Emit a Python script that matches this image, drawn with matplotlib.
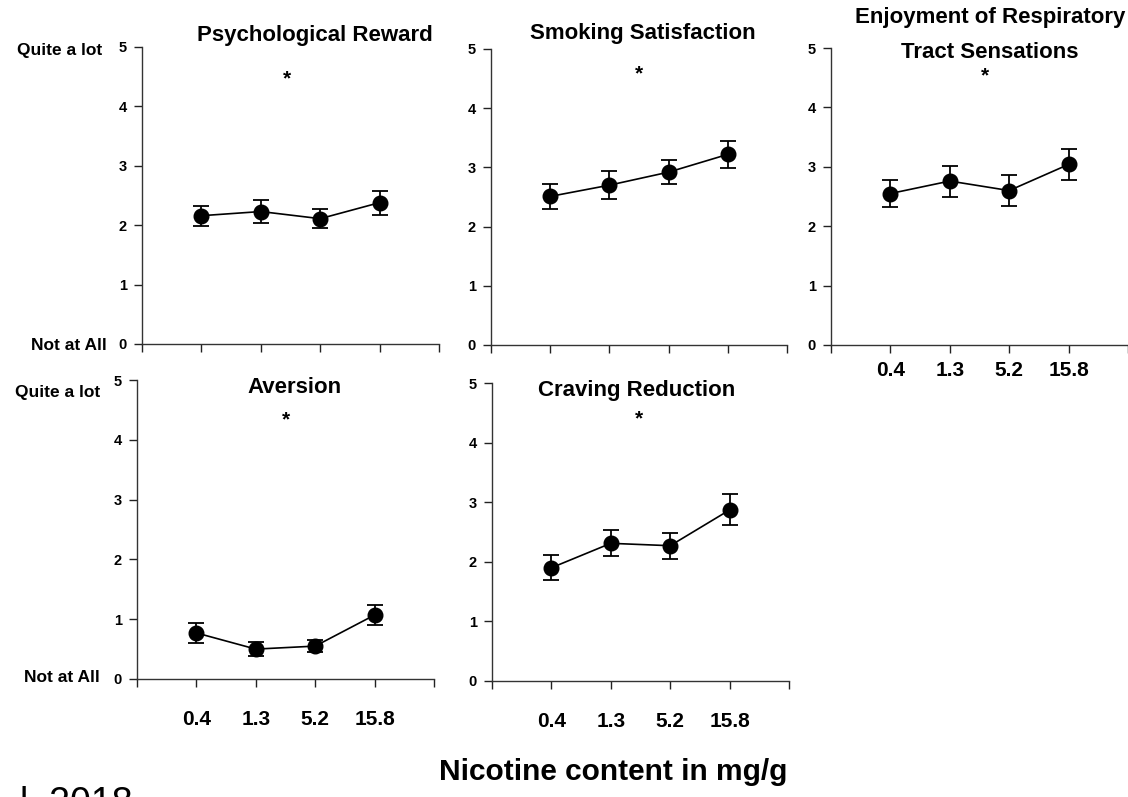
import matplotlib
matplotlib.use("Agg")
import matplotlib.pyplot as plt

plt.rcParams['font.family'] = ['Liberation Sans', 'DejaVu Sans']

# ---- data ----
categories = ['0.4', '1.3', '5.2', '15.8']
x_pos = [1, 2, 3, 4]

psych_mean = [2.16, 2.23, 2.11, 2.38]
psych_err = [0.17, 0.20, 0.16, 0.20]

satis_mean = [2.51, 2.70, 2.92, 3.22]
satis_err = [0.21, 0.24, 0.20, 0.23]

enjoy_mean = [2.55, 2.76, 2.60, 3.04]
enjoy_err = [0.23, 0.26, 0.26, 0.26]

aversion_mean = [0.77, 0.50, 0.55, 1.07]
aversion_err = [0.17, 0.12, 0.10, 0.17]

craving_mean = [1.90, 2.31, 2.27, 2.87]
craving_err = [0.21, 0.22, 0.22, 0.26]

titles = ['Psychological Reward', 'Smoking Satisfaction',
          ['Enjoyment of Respiratory', 'Tract Sensations'],
          'Aversion', 'Craving Reduction']
y_ticks = [0, 1, 2, 3, 4, 5]

W, H = 1128, 797
fig = plt.figure(figsize=(W / 100, H / 100), dpi=100)


def px(x, y):
    return x / W, 1 - y / H


def make_ax(l, r, t, b):
    return fig.add_axes([l / W, 1 - b / H, (r - l) / W, (b - t) / H])


panels = [
    (make_ax(142, 439, 47, 344), psych_mean, psych_err, [(315, 35)], (2.44, 4.46), False, 6),
    (make_ax(491, 787, 49, 345), satis_mean, satis_err, [(643, 33)], (2.5, 4.58), False, 6),
    (make_ax(831, 1128, 48, 345), enjoy_mean, enjoy_err, [(990, 18), (990, 52)], (2.6, 4.53), True, 6),
    (make_ax(137, 434, 380, 679), aversion_mean, aversion_err, [(294, 388)], (2.5, 4.33), True, 17),
    (make_ax(492, 789, 383, 681), craving_mean, craving_err, [(637, 390)], (2.47, 4.4), True, 17),
]

for i, (ax, m, e, tpos, star, showx, xpad) in enumerate(panels):
    ax.errorbar(x_pos, m, yerr=e, color='black', marker='o', markersize=10.5,
                linewidth=1.2, elinewidth=1.3, capsize=6, capthick=1.3)
    ax.set_xlim(0, 5)
    ax.set_ylim(0, 5)
    ax.set_yticks(y_ticks)
    ax.set_yticklabels([str(v) for v in y_ticks], fontsize=10.5, fontweight='bold')
    ax.set_xticks([0, 1, 2, 3, 4, 5])
    if showx:
        ax.set_xticklabels([''] + categories + [''], fontsize=15, fontweight='bold')
    else:
        ax.set_xticklabels([''] * 6)
    ax.tick_params(axis='y', length=6, width=1, pad=5, colors='#222222')
    ax.tick_params(axis='x', length=5.5, width=1, pad=xpad, colors='#222222')
    for lab in ax.get_xticklabels() + ax.get_yticklabels():
        lab.set_color('black')
    for s in ['top', 'right']:
        ax.spines[s].set_visible(False)
    for s in ['left', 'bottom']:
        ax.spines[s].set_linewidth(1.0)
        ax.spines[s].set_color('#333333')
    ax.patch.set_alpha(0)
    t = titles[i]
    lines = t if isinstance(t, list) else [t]
    for line, (tx, ty) in zip(lines, tpos):
        fig.text(*px(tx, ty), line, ha='center', va='center',
                 fontsize=16, fontweight='bold')
    ax.text(star[0], star[1], '*', ha='center', va='center', fontsize=15,
            fontweight='bold')

# scale anchors
for (xq, yq, xn, yn) in [(102, 51, 107, 345), (100, 393, 100, 678)]:
    fig.text(*px(xq, yq), 'Quite a lot', ha='right', va='center',
             fontsize=12.5, fontweight='bold')
    fig.text(*px(xn, yn), 'Not at All', ha='right', va='center',
             fontsize=12.5, fontweight='bold')

fig.text(*px(613, 772), 'Nicotine content in mg/g', ha='center', va='center',
         fontsize=21.5, fontweight='bold')
fig.text(*px(20, 786), 'l, 2018', ha='left', va='top', fontsize=27)

fig.savefig('out.png', dpi=100)
